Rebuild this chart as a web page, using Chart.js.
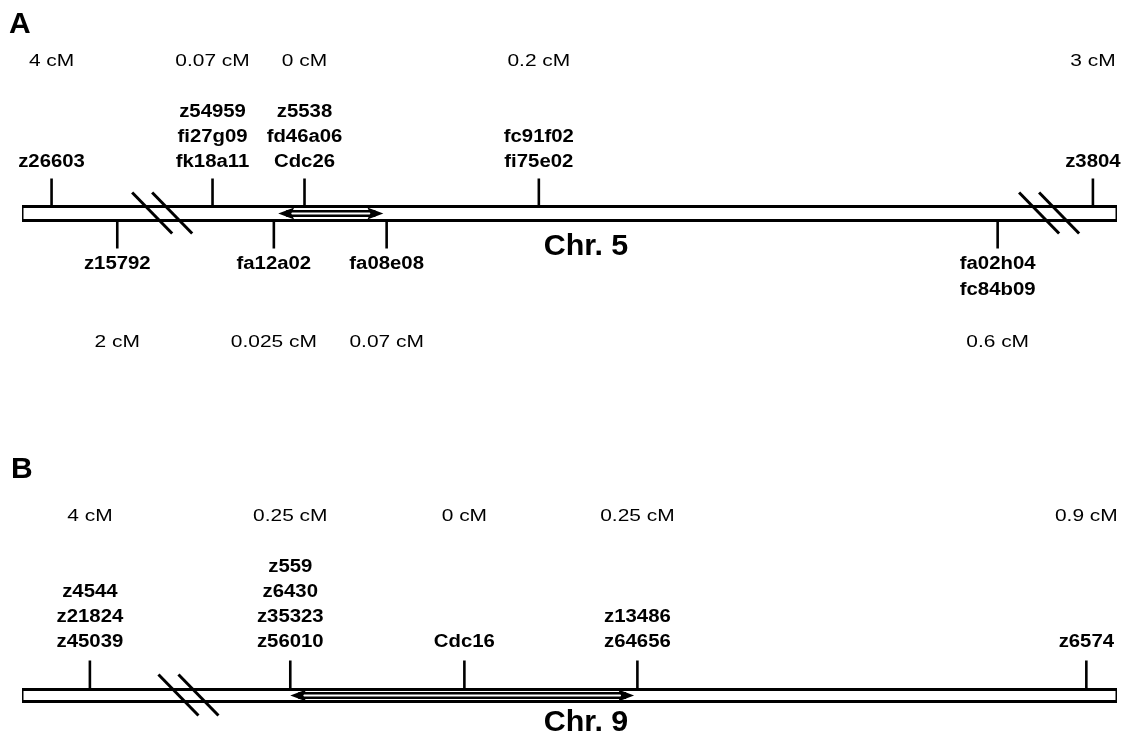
<!DOCTYPE html>
<html>
<head>
<meta charset="utf-8">
<script src="https://cdn.jsdelivr.net/npm/chart.js@4.4.1/dist/chart.umd.min.js"></script>
<style>
  body { margin: 0; background: #fff; width: 1129px; height: 743px; overflow: hidden; position: relative; }
  canvas { position: absolute; left: 0; }
</style>
</head>
<body>
<canvas id="chr5" width="1129" height="440" style="top:0"></canvas>
<canvas id="chr9" width="1129" height="303" style="top:440px"></canvas>
<script>
// positions along the drawn chromosome, 0 = left end, 100 = right end
const chr5Pos = [2.7, 8.7, 17.4, 23.0, 25.8, 33.3, 47.2, 89.1, 97.8];
const chr5Side = [-1, 1, -1, 1, -1, 1, -1, 1, -1]; // -1 above, 1 below
const chr5Names = [
    ["z26603"], ["z15792"], ["z54959", "fi27g09", "fk18a11"], ["fa12a02"],
    ["z5538", "fd46a06", "Cdc26"], ["fa08e08"], ["fc91f02", "fi75e02"],
    ["fa02h04", "fc84b09"], ["z3804"]
];
const chr5Dist = ["4 cM", "2 cM", "0.07 cM", "0.025 cM", "0 cM", "0.07 cM", "0.2 cM", "0.6 cM", "3 cM"];
const chr5Breaks = [12.8, 93.8];
const chr5Arrow = [23.4, 33.0];

const chr9Pos = [6.2, 24.5, 40.4, 56.2, 97.2];
const chr9Side = [-1, -1, -1, -1, -1];
const chr9Names = [
    ["z4544", "z21824", "z45039"], ["z559", "z6430", "z35323", "z56010"],
    ["Cdc16"], ["z13486", "z64656"], ["z6574"]
];
const chr9Dist = ["4 cM", "0.25 cM", "0 cM", "0.25 cM", "0.9 cM"];
const chr9Breaks = [15.2];
const chr9Arrow = [24.5, 55.9];

const FONT = "'Liberation Sans', Arial, sans-serif";

const stretchText = (ctx, txt, px, py, sx) => {
    ctx.save();
    ctx.translate(px, py);
    ctx.scale(sx, 1);
    ctx.fillText(txt, 0, 0);
    ctx.restore();
};

const mapPlugin = {
    id: "mapPlugin",
    afterDatasetsDraw(chart) {
        const o = chart.options.plugins.mapPlugin;
        const { ctx, scales: { x, y } } = chart;
        const y0 = y.getPixelForValue(0);
        ctx.save();
        ctx.fillStyle = "#000";
        ctx.strokeStyle = "#000";

        // double headed arrow inside the bar
        const a1 = x.getPixelForValue(o.arrow[0]);
        const a2 = x.getPixelForValue(o.arrow[1]);
        ctx.lineWidth = 2.4;
        [-2.3, 2.3].forEach(d => {
            ctx.beginPath();
            ctx.moveTo(a1 + 8, y0 + d);
            ctx.lineTo(a2 - 8, y0 + d);
            ctx.stroke();
        });
        [[a1, 1], [a2, -1]].forEach(([tip, dir]) => {
            ctx.beginPath();
            ctx.moveTo(tip, y0);
            ctx.lineTo(tip + dir * 16, y0 - 6);
            ctx.lineTo(tip + dir * 13, y0);
            ctx.lineTo(tip + dir * 16, y0 + 6);
            ctx.closePath();
            ctx.fill();
        });

        // break marks
        ctx.lineWidth = 3;
        o.breaks.forEach(b => {
            const c = x.getPixelForValue(b);
            [-10, 10].forEach(off => {
                ctx.beginPath();
                ctx.moveTo(c + off - 20, y0 - 21);
                ctx.lineTo(c + off + 20, y0 + 20);
                ctx.stroke();
            });
        });

        // marker names and distances
        ctx.textAlign = "center";
        ctx.textBaseline = "middle";
        o.pos.forEach((p, i) => {
            const px = x.getPixelForValue(p);
            const names = o.names[i];
            ctx.font = "bold 18px " + FONT;
            if (o.side[i] < 0) {
                names.forEach((n, k) => {
                    stretchText(ctx, n, px, y0 + o.labelUp - (names.length - 1 - k) * 25, 1.13);
                });
                ctx.font = "17px " + FONT;
                stretchText(ctx, o.dist[i], px, y0 + o.distUp, 1.23);
            } else {
                names.forEach((n, k) => {
                    stretchText(ctx, n, px, y0 + o.labelDown + k * 26, 1.13);
                });
                ctx.font = "17px " + FONT;
                stretchText(ctx, o.dist[i], px, y0 + o.distDown, 1.23);
            }
        });

        ctx.font = "bold 29px " + FONT;
        stretchText(ctx, o.title, o.titleX, y0 + o.titleDy, 1.05);

        ctx.textAlign = "left";
        ctx.textBaseline = "alphabetic";
        ctx.font = "bold 30px " + FONT;
        ctx.fillText(o.panel, o.panelX, o.panelY);
        ctx.restore();
    }
};

const createMap = (id, m) => {
    const barData = [
        { x: 0, y: -m.half }, { x: 100, y: -m.half }, { x: 100, y: m.half },
        { x: 0, y: m.half }, { x: 0, y: -m.half }
    ];
    const tickData = [];
    m.pos.forEach((p, i) => {
        const s = m.side[i];
        tickData.push({ x: p, y: s * (m.half + 1.5) }, { x: p, y: s * 35 }, { x: p, y: null });
    });
    return new Chart(document.getElementById(id), {
        type: "scatter",
        data: {
            datasets: [
                {
                    data: barData, showLine: true, borderColor: "#000", borderWidth: 3,
                    pointRadius: 0, fill: false, borderJoinStyle: "miter"
                },
                {
                    data: tickData, showLine: true, spanGaps: false, borderColor: "#000",
                    borderWidth: 2.6, pointRadius: 0, borderCapStyle: "butt"
                }
            ]
        },
        options: {
            responsive: false,
            animation: false,
            events: [],
            layout: { padding: { left: 22, right: 12, top: 0, bottom: 0 } },
            scales: {
                x: { type: "linear", min: 0, max: 100, display: false },
                y: { type: "linear", reverse: true, min: m.yMin, max: m.yMax, display: false }
            },
            plugins: {
                legend: { display: false },
                tooltip: { enabled: false },
                mapPlugin: m
            }
        },
        plugins: [mapPlugin]
    });
};

createMap("chr5", {
    pos: chr5Pos, side: chr5Side, names: chr5Names, dist: chr5Dist,
    breaks: chr5Breaks, arrow: chr5Arrow,
    half: 7, yMin: -213.5, yMax: 226.5,
    labelUp: -51.5, distUp: -152.5, labelDown: 50.5, distDown: 128.5,
    title: "Chr. 5", titleX: 586, titleDy: 33.5,
    panel: "A", panelX: 9, panelY: 33
});

createMap("chr9", {
    pos: chr9Pos, side: chr9Side, names: chr9Names, dist: chr9Dist,
    breaks: chr9Breaks, arrow: chr9Arrow,
    half: 6, yMin: -255.5, yMax: 47.5,
    labelUp: -53.5, distUp: -179.5, labelDown: 50.5, distDown: 128.5,
    title: "Chr. 9", titleX: 586, titleDy: 27,
    panel: "B", panelX: 11, panelY: 38
});
</script>
</body>
</html>
